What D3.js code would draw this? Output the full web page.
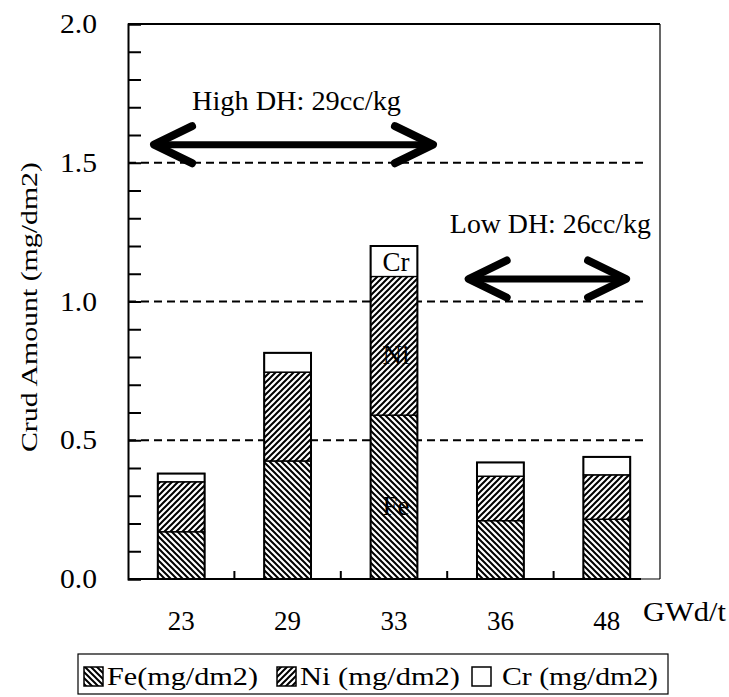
<!DOCTYPE html>
<html>
<head>
<meta charset="utf-8">
<script src="https://cdn.jsdelivr.net/npm/d3@7"></script>
<style>
  body { margin: 0; background: #fff; }
  svg text { font-family: "Liberation Serif", "Times New Roman", serif; fill: #000; }
</style>
</head>
<body>
<div id="chart"></div>
<script>
// crud amount per burnup, stacked Fe / Ni / Cr
const categories = ["23", "29", "33", "36", "48"];
const feValues = [0.17, 0.425, 0.59, 0.21, 0.215];
const niValues = [0.18, 0.32, 0.50, 0.16, 0.16];
const crValues = [0.03, 0.07, 0.11, 0.05, 0.065];
const yTickLabels = [0, 0.5, 1.0, 1.5, 2.0];
const gridValues = [0.5, 1.0, 1.5];
const seriesNames = ["Fe(mg/dm2)", "Ni (mg/dm2)", "Cr (mg/dm2)"];
const segmentLabels = ["Fe", "Ni", "Cr"];
const labelledCategory = "33";
const arrowTexts = ["High DH: 29cc/kg", "Low DH: 26cc/kg"];
const arrowFrom = [0.226, 3.183];   // in category steps from the left axis
const arrowTo = [2.885, 4.70];
const arrowLevel = [1.565, 1.081];
const arrowTextLevel = [1.69, 1.247];

const width = 729, height = 697;
const margin = {top: 24, right: 69, bottom: 118, left: 128};
const plotRight = width - margin.right;
const plotBottom = height - margin.bottom;

const svg = d3.select("#chart").append("svg")
    .attr("width", width)
    .attr("height", height);

const x = d3.scaleBand()
    .domain(categories)
    .range([margin.left, plotRight])
    .paddingInner(0.56)
    .paddingOuter(0.28);

// continuous position in category steps, for the annotations
const xPos = d3.scaleLinear()
    .domain([0, categories.length])
    .range([margin.left, plotRight]);

const y = d3.scaleLinear()
    .domain([0, 2])
    .range([plotBottom, margin.top]);

// hatch patterns
const defs = svg.append("defs");
defs.append("pattern")
    .attr("id", "feHatch")
    .attr("patternUnits", "userSpaceOnUse")
    .attr("width", 6).attr("height", 6)
    .append("path")
    .attr("d", "M-1,-1 L7,7 M-1,5 L1,7 M5,-1 L7,1")
    .attr("stroke", "#000")
    .attr("stroke-width", 2);
const niPat = defs.append("pattern")
    .attr("id", "niHatch")
    .attr("patternUnits", "userSpaceOnUse")
    .attr("width", 6).attr("height", 6);
niPat.append("path")
    .attr("d", "M-1,7 L7,-1 M-1,1 L1,-1 M5,7 L7,5")
    .attr("stroke", "#000")
    .attr("stroke-width", 2);

const fills = ["url(#feHatch)", "url(#niHatch)", "none"];

// stacked data
const stackData = categories.map((c, i) => ({cat: c, Fe: feValues[i], Ni: niValues[i], Cr: crValues[i]}));
const series = d3.stack().keys(["Fe", "Ni", "Cr"])(stackData);

// dashed grid lines
svg.append("g")
    .selectAll("line")
    .data(gridValues)
    .join("line")
    .attr("x1", margin.left)
    .attr("x2", plotRight - 12)
    .attr("y1", d => y(d))
    .attr("y2", d => y(d))
    .attr("stroke", "#000")
    .attr("stroke-width", 2)
    .attr("stroke-dasharray", "8,5");

// white backing so the grid does not show through the hatching
svg.append("g")
    .selectAll("rect")
    .data(stackData)
    .join("rect")
    .attr("x", d => x(d.cat))
    .attr("width", x.bandwidth())
    .attr("y", d => y(d.Fe + d.Ni + d.Cr))
    .attr("height", d => y(0) - y(d.Fe + d.Ni + d.Cr))
    .attr("fill", "#fff");

// segment names inside the 33 bar (hatch drawn over them)
const labelSeries = series.map((s, k) => {
    const seg = s.find(p => p.data.cat === labelledCategory);
    return {name: segmentLabels[k], lo: seg[0], hi: seg[1], k: k};
});
svg.append("g")
    .selectAll("text")
    .data(labelSeries)
    .join("text")
    .attr("x", x(labelledCategory) + x.bandwidth() / 2 + 2)
    .attr("y", d => d.k === 2 ? y((d.lo + d.hi) / 2) + 10 : y((d.lo + d.hi) / 2) + 18)
    .attr("text-anchor", "middle")
    .attr("font-size", 27)
    .text(d => d.name);

// hatched segments
svg.append("g")
    .selectAll("g")
    .data(series)
    .join("g")
    .attr("fill", (d, k) => fills[k])
    .selectAll("rect")
    .data(d => d)
    .join("rect")
    .attr("x", d => x(d.data.cat))
    .attr("width", x.bandwidth())
    .attr("y", d => y(d[1]))
    .attr("height", d => y(d[0]) - y(d[1]))
    .attr("stroke", "#000")
    .attr("stroke-width", 1.2);

// bar outlines
svg.append("g")
    .selectAll("rect")
    .data(stackData)
    .join("rect")
    .attr("x", d => x(d.cat))
    .attr("width", x.bandwidth())
    .attr("y", d => y(d.Fe + d.Ni + d.Cr))
    .attr("height", d => y(0) - y(d.Fe + d.Ni + d.Cr))
    .attr("fill", "none")
    .attr("stroke", "#000")
    .attr("stroke-width", 2);

// frame
svg.append("line")
    .attr("x1", margin.left).attr("x2", plotRight)
    .attr("y1", margin.top).attr("y2", margin.top)
    .attr("stroke", "#000").attr("stroke-width", 2);
svg.append("line")
    .attr("x1", plotRight).attr("x2", plotRight)
    .attr("y1", margin.top).attr("y2", plotBottom)
    .attr("stroke", "#000").attr("stroke-width", 1.2);
svg.append("line")
    .attr("x1", margin.left).attr("x2", plotRight)
    .attr("y1", plotBottom).attr("y2", plotBottom)
    .attr("stroke", "#000").attr("stroke-width", 1.2);

// y axis: minor ticks every 0.1 pointing inward
const yAxis = d3.axisRight(y)
    .tickValues(d3.range(0, 21).map(d => d / 10))
    .tickSize(13)
    .tickFormat("");
const yG = svg.append("g")
    .attr("transform", `translate(${margin.left},0)`)
    .call(yAxis);
yG.select(".domain").attr("stroke-width", 2);
yG.selectAll(".tick line").attr("stroke-width", 2);

svg.append("g")
    .selectAll("text")
    .data(yTickLabels)
    .join("text")
    .attr("x", margin.left - 31)
    .attr("y", d => y(d))
    .attr("dy", "0.34em")
    .attr("text-anchor", "end")
    .attr("font-size", 27)
    .attr("textLength", 37)
    .attr("lengthAdjust", "spacingAndGlyphs")
    .text(d => d3.format(".1f")(d));

// x axis: ticks between categories pointing up, domain stops short of the frame
const boundaries = categories.slice(0, -1).map(c => x(c) + x.bandwidth() / 2 + x.step() / 2);
const xG = svg.append("g")
    .attr("transform", `translate(0,${plotBottom})`);
xG.append("line")
    .attr("x1", margin.left).attr("x2", plotRight - 19)
    .attr("stroke", "#000").attr("stroke-width", 2);
xG.selectAll(".xtick")
    .data(boundaries)
    .join("line")
    .attr("class", "xtick")
    .attr("x1", d => d).attr("x2", d => d)
    .attr("y1", 0).attr("y2", -8)
    .attr("stroke", "#000").attr("stroke-width", 2);

svg.append("g")
    .selectAll("text")
    .data(categories)
    .join("text")
    .attr("x", d => x(d) + x.bandwidth() / 2)
    .attr("y", plotBottom + 51)
    .attr("text-anchor", "middle")
    .attr("font-size", 27)
    .text(d => d);

svg.append("text")
    .attr("x", plotRight - 17)
    .attr("y", plotBottom + 42)
    .attr("font-size", 27)
    .attr("textLength", 83)
    .attr("lengthAdjust", "spacingAndGlyphs")
    .text("GWd/t");

// y title
svg.append("text")
    .attr("transform", `translate(37,${y(0.98)}) rotate(-90)`)
    .attr("text-anchor", "middle")
    .attr("font-size", 24)
    .attr("textLength", 290)
    .attr("lengthAdjust", "spacingAndGlyphs")
    .text("Crud Amount (mg/dm2)");

// double-headed arrows
const arrowG = svg.append("g")
    .attr("stroke", "#000")
    .attr("fill", "none")
    .attr("stroke-linecap", "round")
    .attr("stroke-linejoin", "round");
arrowTexts.forEach((t, i) => {
    const x0 = xPos(arrowFrom[i]), x1 = xPos(arrowTo[i]), ay = y(arrowLevel[i]);
    arrowG.append("line")
        .attr("x1", x0 + 4).attr("x2", x1 - 4)
        .attr("y1", ay).attr("y2", ay)
        .attr("stroke-width", 7)
        .attr("stroke-linecap", "butt");
    arrowG.append("path")
        .attr("d", `M${x0 + 40},${ay - 18.5} L${x0 + 2},${ay} L${x0 + 40},${ay + 18.5}`)
        .attr("stroke-width", 8);
    arrowG.append("path")
        .attr("d", `M${x1 - 40},${ay - 18.5} L${x1 - 2},${ay} L${x1 - 40},${ay + 18.5}`)
        .attr("stroke-width", 8);
    svg.append("text")
        .attr("x", (x0 + x1) / 2 + 3)
        .attr("y", y(arrowTextLevel[i]))
        .attr("text-anchor", "middle")
        .attr("font-size", 27)
        .attr("textLength", i === 0 ? 209 : 201)
        .attr("lengthAdjust", "spacingAndGlyphs")
        .text(t);
});

// legend
const legendX = [84, 277, 472];
const legendTextW = [151, 160, 156];
const legend = svg.append("g");
legend.append("rect")
    .attr("x", 78).attr("y", 654)
    .attr("width", 590).attr("height", 40)
    .attr("fill", "#fff")
    .attr("stroke", "#000")
    .attr("stroke-width", 1.2);
seriesNames.forEach((name, k) => {
    legend.append("rect")
        .attr("x", legendX[k]).attr("y", 667)
        .attr("width", 19).attr("height", 19)
        .attr("fill", k === 2 ? "#fff" : fills[k])
        .attr("stroke", "#000")
        .attr("stroke-width", 1.5);
    legend.append("text")
        .attr("x", legendX[k] + (k === 2 ? 30 : 23))
        .attr("y", 685)
        .attr("font-size", 25)
        .attr("textLength", legendTextW[k])
        .attr("lengthAdjust", "spacingAndGlyphs")
        .text(name);
});
</script>
</body>
</html>
